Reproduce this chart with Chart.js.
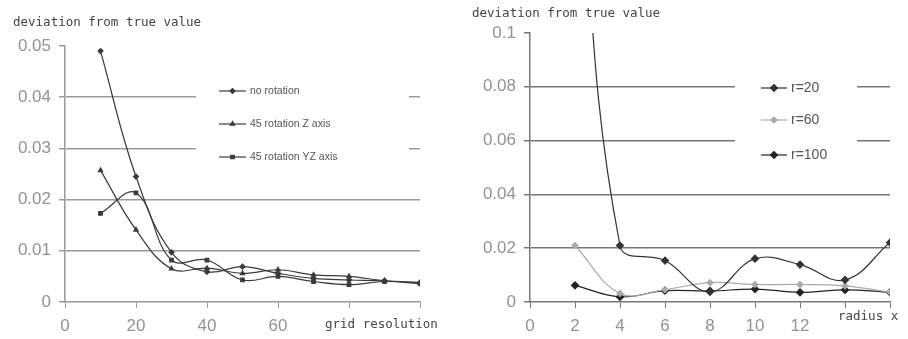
<!DOCTYPE html>
<html>
<head>
<meta charset="utf-8">
<script src="https://cdn.jsdelivr.net/npm/chart.js@4/dist/chart.umd.min.js"></script>
<style>
  body { margin: 0; background: #fff; }
  #left { position: absolute; left: 0; top: 0; }
  #right { position: absolute; left: 454px; top: 0; }
</style>
</head>
<body>
<canvas id="left" width="454" height="339"></canvas>
<canvas id="right" width="454" height="339"></canvas>
<script>
// left chart: deviation vs grid resolution
const gridRes = [10, 20, 30, 40, 50, 60, 70, 80, 90, 100];
const noRotation = [0.049, 0.0245, 0.0097, 0.0059, 0.0069, 0.0056, 0.0046, 0.0043, 0.0041, 0.0036];
const rotZ = [0.0257, 0.0141, 0.0065, 0.0066, 0.0056, 0.0063, 0.0053, 0.005, 0.0042, 0.0038];
const rotYZ = [0.0173, 0.0213, 0.0082, 0.0082, 0.0043, 0.005, 0.004, 0.0034, 0.004, 0.0037];
const leftLabels = ["no rotation", "45 rotation Z axis", "45 rotation YZ axis"];

// right chart: deviation vs radius
const radiusX = [2, 4, 6, 8, 10, 12, 14, 16];
const r20 = [0.19, 0.021, 0.0154, 0.0038, 0.0161, 0.0139, 0.0082, 0.0221];
const r60 = [0.021, 0.0032, 0.0046, 0.0072, 0.0065, 0.0065, 0.006, 0.0037];
const r100 = [0.0062, 0.0019, 0.0042, 0.0041, 0.0048, 0.0036, 0.0045, 0.0036];
const rightLabels = ["r=20", "r=60", "r=100"];

const yTitle = "deviation from true value";
const mono = "'DejaVu Sans Mono', monospace";
const tickFont = { family: "'Liberation Sans', Arial", size: 17 };
const tickGray = "#929292";

function pts(xs, ys) {
  return xs.map((x, i) => ({ x: x, y: ys[i] }));
}

// draws the title, the x axis name and the boxed legend
function decor(cfg) {
  return {
    id: "decor",
    afterDraw(chart) {
      const ctx = chart.ctx;
      ctx.save();
      ctx.fillStyle = "#444";
      ctx.font = "12.5px " + mono;
      ctx.textBaseline = "middle";
      ctx.fillText(yTitle, cfg.titleX, cfg.titleY);
      ctx.fillText(cfg.xName, cfg.xNameX, cfg.xNameY);

      const b = cfg.box;
      ctx.fillStyle = "#fff";
      ctx.fillRect(b.x, b.y, b.w, b.h);

      chart.data.datasets.forEach((ds, i) => {
        const y = cfg.itemY[i];
        ctx.strokeStyle = ds.borderColor;
        ctx.fillStyle = ds.borderColor;
        ctx.lineWidth = 1.2;
        ctx.beginPath();
        ctx.moveTo(cfg.lineX0, y);
        ctx.lineTo(cfg.lineX1, y);
        ctx.stroke();
        Chart.helpers.drawPoint(ctx, {
          pointStyle: ds.pointStyle,
          radius: ds.pointRadius,
          borderWidth: 1
        }, (cfg.lineX0 + cfg.lineX1) / 2, y);
        ctx.fillStyle = "#555";
        ctx.font = cfg.legendFont;
        ctx.fillText(ds.label, cfg.textX, y);
      });
      ctx.restore();
    }
  };
}

function lineSet(label, xs, ys, color, style, r) {
  return {
    label: label,
    data: pts(xs, ys),
    borderColor: color,
    backgroundColor: color,
    pointBorderColor: color,
    pointBackgroundColor: color,
    borderWidth: 1.2,
    pointStyle: style,
    pointRadius: r,
    tension: 0.4
  };
}

function axes(xMax, xStep, xHide, yMax, yStep, yWidth, gridColor) {
  return {
    x: {
      type: "linear",
      min: 0, max: xMax,
      afterFit: s => { s.height = 37; },
      border: { color: gridColor, width: 1.5 },
      grid: { drawOnChartArea: false, tickLength: 6, tickColor: gridColor },
      ticks: {
        stepSize: xStep,
        padding: 8,
        color: tickGray,
        font: tickFont,
        maxRotation: 0,
        callback: v => (v >= xHide ? "" : String(v))
      }
    },
    y: {
      min: 0, max: yMax,
      afterFit: s => { s.width = yWidth; },
      border: { color: gridColor, width: 1.5 },
      grid: {
        tickLength: 6,
        tickColor: gridColor,
        lineWidth: 1.5,
        color: c => (c.tick && (c.tick.value <= 0 || c.tick.value >= yMax - 1e-9) ? "rgba(0,0,0,0)" : gridColor)
      },
      ticks: {
        stepSize: yStep,
        padding: 8,
        color: tickGray,
        font: tickFont,
        callback: v => String(+v.toFixed(4))
      }
    }
  };
}

new Chart(document.getElementById("left"), {
  type: "line",
  data: {
    datasets: [
      lineSet(leftLabels[0], gridRes, noRotation, "#3a3a3a", "rectRot", 2.5),
      lineSet(leftLabels[1], gridRes, rotZ, "#3a3a3a", "triangle", 2.5),
      lineSet(leftLabels[2], gridRes, rotYZ, "#3a3a3a", "rect", 2.5)
    ]
  },
  options: {
    responsive: false,
    animation: false,
    layout: { padding: { top: 46, right: 34, left: 0, bottom: 0 } },
    plugins: { legend: { display: false }, tooltip: { enabled: false } },
    scales: axes(100, 20, 80, 0.05, 0.01, 65, "#9a9a9a")
  },
  plugins: [decor({
    titleX: 13, titleY: 23,
    xName: "grid resolution", xNameX: 325, xNameY: 325,
    box: { x: 196, y: 75, w: 213, h: 95 },
    itemY: [91, 124, 157],
    lineX0: 219, lineX1: 246, textX: 250,
    legendFont: "10.5px 'Liberation Sans', Arial"
  })]
});

new Chart(document.getElementById("right"), {
  type: "line",
  data: {
    datasets: [
      lineSet(rightLabels[0], radiusX, r20, "#333", "rectRot", 3.5),
      lineSet(rightLabels[1], radiusX, r60, "#aaa", "rectRot", 3),
      lineSet(rightLabels[2], radiusX, r100, "#222", "rectRot", 3.5)
    ]
  },
  options: {
    responsive: false,
    animation: false,
    layout: { padding: { top: 33, right: 18, left: 0, bottom: 0 } },
    plugins: { legend: { display: false }, tooltip: { enabled: false } },
    scales: axes(16, 2, 14, 0.1, 0.02, 76, "#777")
  },
  plugins: [decor({
    titleX: 18, titleY: 14,
    xName: "radius x", xNameX: 384, xNameY: 317,
    box: { x: 281, y: 70, w: 122, h: 100 },
    itemY: [88, 120, 155],
    lineX0: 307, lineX1: 333, textX: 337,
    legendFont: "14px 'Liberation Sans', Arial"
  })]
});
</script>
</body>
</html>
